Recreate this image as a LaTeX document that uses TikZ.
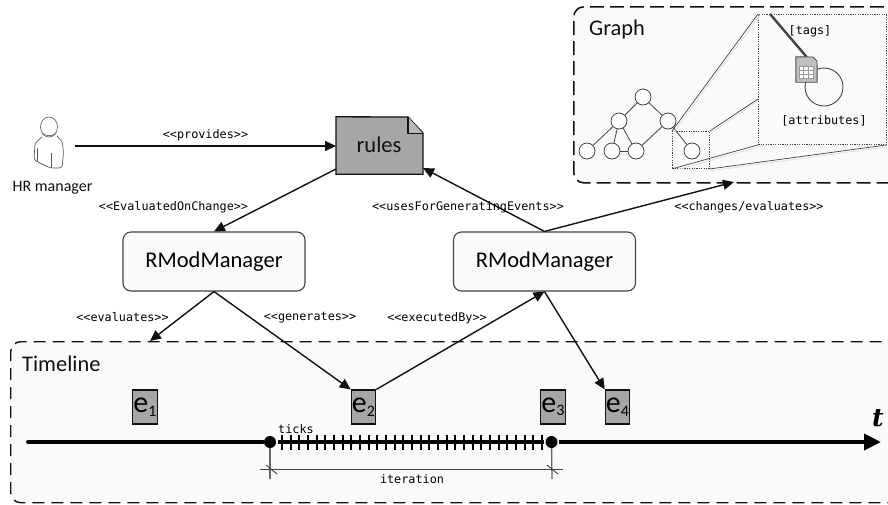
\documentclass[tikz,border=0pt]{standalone}
\usepackage{fontspec}
\setmainfont{Carlito}
\setmonofont{DejaVu Sans Mono}
\newfontfamily\tfont{DejaVu Serif}
\usetikzlibrary{arrows.meta,calc,shapes.geometric}
\definecolor{panel}{HTML}{FAFAFA}
\definecolor{greybox}{HTML}{A6A6A6}
\definecolor{ink}{HTML}{111111}
\definecolor{edgegrey}{HTML}{444444}
\newcommand{\px}[1]{\fontsize{#1}{#1}\selectfont}
\newcommand{\evlabel}[1]{e\raisebox{-3.5pt}{\px{16}#1}}
\tikzset{
  panelbox/.style={draw=ink,fill=panel,rounded corners=10pt,inner sep=0pt,line width=1.4pt,dash pattern=on 12pt off 7pt,anchor=north west},
  mgr/.style={draw=edgegrey,fill=panel,rounded corners=8pt,line width=1.1pt,minimum width=182pt,minimum height=59pt,inner sep=0pt,font=\px{22.5}},
  conn/.style={line width=1.4pt,ink,-{Triangle[length=11pt,width=10pt]}},
  lbl/.style={inner sep=0pt,font=\ttfamily\px{11.8},text=black},
  ev/.style={draw=ink,fill=greybox,line width=1.1pt,minimum width=24.5pt,minimum height=34pt,inner sep=0pt,font=\px{30}},
  gn/.style={circle,draw=edgegrey,fill=white,line width=.8pt,minimum size=16pt,inner sep=0pt},
  ge/.style={edgegrey,line width=.8pt},
  proj/.style={edgegrey,line width=.7pt},
  projshadow/.style={black!12,line width=.8pt},
  dotbox/.style={draw=edgegrey,dash pattern=on 1.2pt off 1.2pt,line width=.9pt,inner sep=0pt,anchor=north west},
  dot/.style={circle,fill=black,inner sep=0pt,minimum size=12pt},
  axis/.style={line width=4pt,black},
  person/.style={line width=.7pt,black!65},
  ttl/.style={inner sep=0pt,anchor=base west,font=\px{22.4},text=ink}
}
\begin{document}
\begin{tikzpicture}[x=1pt,y=-1pt]
\useasboundingbox (0,0) rectangle (888,504);
\clip (0,0) rectangle (888,504);
\fill[white] (0,0) rectangle (888,504);
% panels
\node[panelbox,minimum width=900pt,minimum height=161pt] (timeline) at (10,341) {};
\node[panelbox,minimum width=340pt,minimum height=176pt,line width=1.6pt,dash pattern=on 14pt off 6pt] (graph) at (573,6) {};
\node[ttl] (tltitle) at (22,371) {Timeline};
\node[ttl] (grtitle) at (589,35) {Graph};
% person
\node[ellipse,draw=black!60,line width=.7pt,minimum width=17pt,minimum height=20pt,inner sep=0pt] (head) at (49,127) {};
\draw[brown!80!black,line width=.8pt] (head.-140) .. controls (45.5,136.5) and (52.5,136.5) .. (head.-40);
\draw[person,rounded corners=3pt] (42,137) -- (35,143) -- (34,160) -- (50,168) -- (62,168) -- (63.5,153) -- (62.5,142) -- (57,136);
\draw[person] (37.5,148) -- (37.5,162) (51.5,153) -- (51.5,168);
\node[inner sep=0pt,font=\px{16},text=ink] (hr) at (52.5,188) {HR manager};
\coordinate (hrout) at (75,146);
% rules
\node[inner sep=0pt,minimum width=86.5pt,minimum height=57pt] (rules) at (379.5,145.5) {};
\draw[fill=greybox,draw=ink,line width=1.3pt] (rules.south west) -- (rules.north west) -- (408,117) -- (423,133) -- (rules.south east) -- cycle;
\draw[fill=greybox!80!white,draw=ink,line width=1.3pt] (408,117) -- (408,133.5) -- (423,133.5);
\node[inner sep=0pt,font=\px{22.5},text=ink] (rulestext) at (379,145) {rules};
\coordinate (rulesL) at (336,169);
\coordinate (rulesR) at (423,168);
% managers
\node[mgr] (m1) at (214,261.5) {RModManager};
\node[mgr] (m2) at (544.5,261.5) {RModManager};
% events
\node[ev] (e1) at (145,407) {\evlabel{1}};
\node[ev] (e2) at (363.5,407) {\evlabel{2}};
\node[ev] (e3) at (553,407) {\evlabel{3}};
\node[ev] (e4) at (617.5,407) {\evlabel{4}};
% connectors
\coordinate (tlin) at (150,341);
\coordinate (grin) at (734,182);
\draw[conn] (hrout) -- (rules.west |- hrout);
\draw[conn] (rulesL) -- (m1.north);
\draw[conn] (m1.south) -- (tlin);
\draw[conn] (m1.south) -- (e2.north west);
\draw[conn] (e2.north east) -- (m2.south);
\draw[conn] (m2.south) -- (e4.north west);
\draw[conn] (m2.north) -- (rulesR);
\draw[conn] (m2.north) -- (grin);
% labels
\node[lbl] (lprov) at (205.5,135) {<{}<provides>{}>};
\node[lbl] (leval) at (173.5,207) {<{}<EvaluatedOnChange>{}>};
\node[lbl] (luses) at (468,207) {<{}<usesForGeneratingEvents>{}>};
\node[lbl] (lchg) at (749,207) {<{}<changes/evaluates>{}>};
\node[lbl] (levs) at (122.5,317) {<{}<evaluates>{}>};
\node[lbl] (lgen) at (310,318) {<{}<generates>{}>};
\node[lbl] (lexe) at (437,318) {<{}<executedBy>{}>};
% axis
\coordinate (axstart) at (28,442);
\coordinate (ax1) at (263,442);
\coordinate (tk1) at (278,442);
\coordinate (tk2) at (544,442);
\coordinate (ax2) at (559,442);
\coordinate (axend) at (881,442);
\draw[axis,line cap=round] (axstart) -- (ax1);
\draw[axis] (tk1) -- (tk2);
\draw[axis,-{Triangle[length=17pt,width=16pt]}] (ax2) -- (axend);
\foreach \k in {0,...,30} {\draw[black,line width=2pt] ({282+\k*8.667},434.5) -- ({282+\k*8.667},450);}
\node[dot] (d1) at (270,442) {};
\node[dot] (d2) at (551.5,442) {};
\node[lbl] (lticks) at (296,429) {ticks};
\coordinate (v1) at (270,479);
\coordinate (v2) at (552,479);
\draw[black!60,line width=1.3pt] (d1) -- (v1);
\draw[black!60,line width=1.3pt] (d2) -- (v2);
\coordinate (it1) at (260,469);
\coordinate (it2) at (563,469);
\draw[edgegrey,line width=.9pt] (it1) -- (it2);
\draw[edgegrey,line width=.9pt] (266,465) -- (277,474) (547,465) -- (558,474);
\node[lbl] (liter) at (412,479) {iteration};
\node[inner sep=0pt,font=\tfont\bfseries\itshape\px{25},text=black] (tlab) at (878,418) {t};
% graph tree
\node[gn] (g0) at (643,97) {};
\node[gn] (g1) at (619,121) {};
\node[gn] (g2) at (668,121) {};
\node[gn] (g3) at (587,151) {};
\node[gn] (g4) at (612,151) {};
\node[gn] (g5) at (636,151) {};
\node[gn] (g6) at (692,151) {};
\foreach \a/\b in {g0/g1,g0/g2,g1/g3,g1/g4,g1/g5,g4/g5,g2/g5,g2/g6} {\draw[ge] (\a) -- (\b);}
% zoom
\node[dotbox,minimum width=37pt,minimum height=37pt] (zs) at (672,131) {};
\node[dotbox,minimum width=128pt,minimum height=130pt] (zb) at (758,14) {};
\coordinate (zbmid) at (758,99);
\draw[projshadow] ($(zs.north west)+(2,1)$) -- ($(zb.north west)+(2,1)$);
\draw[projshadow] ($(zs.north east)+(1,2)$) -- ($(zbmid)+(0,2)$);
\draw[projshadow] ($(zs.south west)+(1,2)$) -- ($(zb.south west)+(1,2)$);
\draw[projshadow] ($(zs.south east)+(0,2)$) -- ($(zb.south east)+(0,2)$);
\draw[proj] (zs.north west) -- (zb.north west);
\draw[proj] (zs.north east) -- (zbmid);
\draw[proj] (zs.south west) -- (zb.south west);
\draw[proj] (zs.south east) -- (zb.south east);
% attribute loop and doc icon
\node[circle,draw=edgegrey,line width=.9pt,minimum size=38pt,inner sep=0pt] (loop) at (824,87) {};
\node[inner sep=0pt,minimum width=21pt,minimum height=25pt] (doc) at (806.5,69.5) {};
\coordinate (tagtop) at (770,14);
\draw[edgegrey,line width=2.4pt] (tagtop) -- (doc.north);
\draw[fill=black!25,draw=black!70,line width=.9pt] (doc.south west) -- (doc.north west) -- (813,57) -- (817,61) -- (doc.south east) -- cycle;
\fill[white] (799,66) rectangle (813,78);
\draw[black!40,line width=.6pt] (799,66) rectangle (813,78) (799,70) -- (813,70) (799,74) -- (813,74) (803.7,66) -- (803.7,78) (808.3,66) -- (808.3,78);
\node[lbl] (ltags) at (810,31) {[tags]};
\node[lbl] (lattr) at (824,121) {[attributes]};
\end{tikzpicture}
\end{document}
